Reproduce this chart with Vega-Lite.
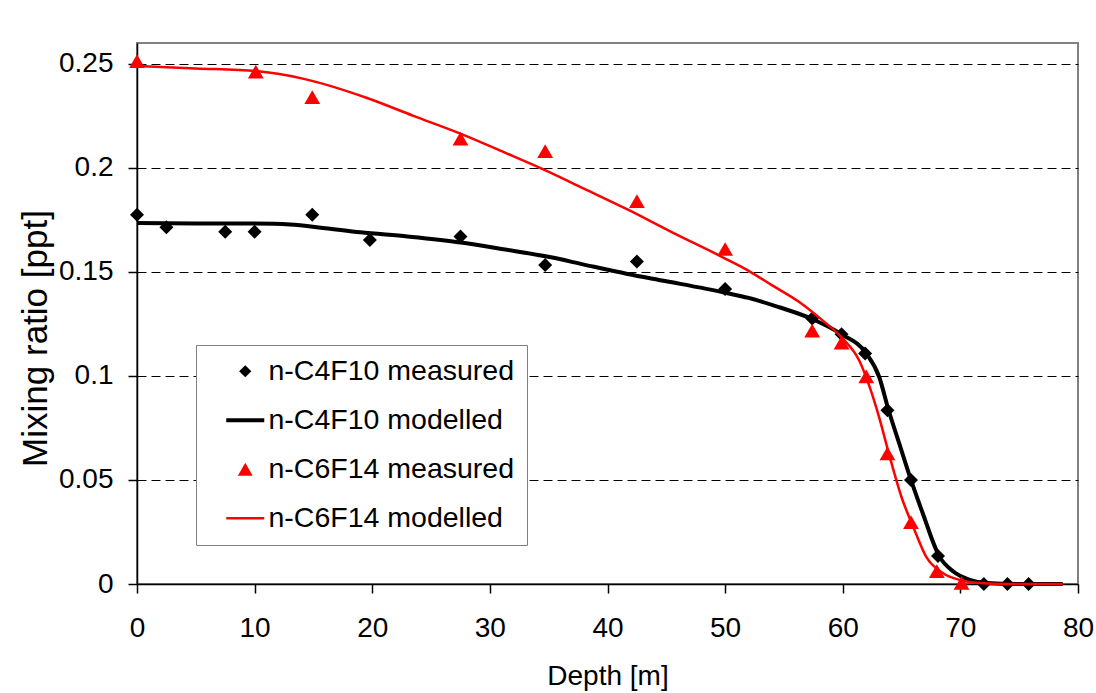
{
  "$schema": "https://vega.github.io/schema/vega-lite/v6.json",
  "width": 941,
  "height": 541,
  "autosize": {"type": "none"},
  "padding": {"left": 137, "top": 43, "right": 18, "bottom": 109},
  "background": "white",
  "config": {
    "font": "Liberation Sans",
    "view": {"stroke": "#808080", "strokeWidth": 2},
    "axis": {
      "domainColor": "black", "domainWidth": 1.5,
      "tickColor": "black", "tickWidth": 1.5, "tickSize": 9,
      "labelFontSize": 28, "labelColor": "black", "labelFont": "Liberation Sans",
      "titleFontSize": 28, "titleFontWeight": "normal", "titleColor": "black", "titleFont": "Liberation Sans"
    },
    "legend": {
      "orient": "none", "legendX": 59, "legendY": 302, "direction": "vertical",
      "strokeColor": "#808080", "fillColor": "white", "padding": 12,
      "rowPadding": 20, "symbolOffset": 23, "labelOffset": 9,
      "labelFontSize": 28.5, "labelFont": "Liberation Sans", "labelColor": "black", "labelLimit": 0,
      "title": null
    }
  },
  "datasets": {
    "pts": [
      {"series": "n-C4F10 measured", "depth": 0, "value": 0.1775},
      {"series": "n-C4F10 measured", "depth": 2.5, "value": 0.1714},
      {"series": "n-C4F10 measured", "depth": 7.5, "value": 0.1693},
      {"series": "n-C4F10 measured", "depth": 10, "value": 0.1693},
      {"series": "n-C4F10 measured", "depth": 14.9, "value": 0.1775},
      {"series": "n-C4F10 measured", "depth": 19.8, "value": 0.1653},
      {"series": "n-C4F10 measured", "depth": 27.5, "value": 0.167},
      {"series": "n-C4F10 measured", "depth": 34.7, "value": 0.1533},
      {"series": "n-C4F10 measured", "depth": 42.5, "value": 0.155},
      {"series": "n-C4F10 measured", "depth": 50, "value": 0.1418},
      {"series": "n-C4F10 measured", "depth": 57.4, "value": 0.1276},
      {"series": "n-C4F10 measured", "depth": 59.9, "value": 0.12},
      {"series": "n-C4F10 measured", "depth": 61.9, "value": 0.1108},
      {"series": "n-C4F10 measured", "depth": 63.8, "value": 0.0835},
      {"series": "n-C4F10 measured", "depth": 65.8, "value": 0.05},
      {"series": "n-C4F10 measured", "depth": 68.1, "value": 0.0134},
      {"series": "n-C4F10 measured", "depth": 72, "value": 0},
      {"series": "n-C4F10 measured", "depth": 74, "value": 0},
      {"series": "n-C4F10 measured", "depth": 75.8, "value": 0},
      {"series": "n-C6F14 measured", "depth": 0, "value": 0.2513},
      {"series": "n-C6F14 measured", "depth": 10.1, "value": 0.2462},
      {"series": "n-C6F14 measured", "depth": 14.9, "value": 0.234},
      {"series": "n-C6F14 measured", "depth": 27.5, "value": 0.214},
      {"series": "n-C6F14 measured", "depth": 34.7, "value": 0.208},
      {"series": "n-C6F14 measured", "depth": 42.5, "value": 0.184},
      {"series": "n-C6F14 measured", "depth": 50, "value": 0.161},
      {"series": "n-C6F14 measured", "depth": 57.4, "value": 0.1218},
      {"series": "n-C6F14 measured", "depth": 59.9, "value": 0.116},
      {"series": "n-C6F14 measured", "depth": 62, "value": 0.0998},
      {"series": "n-C6F14 measured", "depth": 63.8, "value": 0.0628},
      {"series": "n-C6F14 measured", "depth": 65.8, "value": 0.0297},
      {"series": "n-C6F14 measured", "depth": 68, "value": 0.0062},
      {"series": "n-C6F14 measured", "depth": 70.1, "value": 0.0005}
    ],
    "model": [
      {"series": "n-C4F10 modelled", "depth": 0, "value": 0.1735},
      {"series": "n-C4F10 modelled", "depth": 5, "value": 0.1733},
      {"series": "n-C4F10 modelled", "depth": 10, "value": 0.1732},
      {"series": "n-C4F10 modelled", "depth": 13, "value": 0.1728},
      {"series": "n-C4F10 modelled", "depth": 16, "value": 0.171},
      {"series": "n-C4F10 modelled", "depth": 19, "value": 0.169},
      {"series": "n-C4F10 modelled", "depth": 23, "value": 0.167},
      {"series": "n-C4F10 modelled", "depth": 27.7, "value": 0.164},
      {"series": "n-C4F10 modelled", "depth": 31, "value": 0.161},
      {"series": "n-C4F10 modelled", "depth": 35.2, "value": 0.157},
      {"series": "n-C4F10 modelled", "depth": 38, "value": 0.1535},
      {"series": "n-C4F10 modelled", "depth": 41.7, "value": 0.149},
      {"series": "n-C4F10 modelled", "depth": 45, "value": 0.1455},
      {"series": "n-C4F10 modelled", "depth": 50, "value": 0.14},
      {"series": "n-C4F10 modelled", "depth": 52, "value": 0.1375},
      {"series": "n-C4F10 modelled", "depth": 54.6, "value": 0.133},
      {"series": "n-C4F10 modelled", "depth": 57.3, "value": 0.1276},
      {"series": "n-C4F10 modelled", "depth": 59.9, "value": 0.12},
      {"series": "n-C4F10 modelled", "depth": 62, "value": 0.1108},
      {"series": "n-C4F10 modelled", "depth": 63.1, "value": 0.0995},
      {"series": "n-C4F10 modelled", "depth": 63.9, "value": 0.0835},
      {"series": "n-C4F10 modelled", "depth": 64.8, "value": 0.0676},
      {"series": "n-C4F10 modelled", "depth": 65.8, "value": 0.05},
      {"series": "n-C4F10 modelled", "depth": 66.8, "value": 0.034},
      {"series": "n-C4F10 modelled", "depth": 68.2, "value": 0.0134},
      {"series": "n-C4F10 modelled", "depth": 69.4, "value": 0.006},
      {"series": "n-C4F10 modelled", "depth": 70.8, "value": 0.002},
      {"series": "n-C4F10 modelled", "depth": 72.2, "value": 0.0005},
      {"series": "n-C4F10 modelled", "depth": 75, "value": 0},
      {"series": "n-C4F10 modelled", "depth": 78.7, "value": 0},
      {"series": "n-C6F14 modelled", "depth": 0, "value": 0.249},
      {"series": "n-C6F14 modelled", "depth": 5, "value": 0.2478},
      {"series": "n-C6F14 modelled", "depth": 10.1, "value": 0.2465},
      {"series": "n-C6F14 modelled", "depth": 14, "value": 0.243},
      {"series": "n-C6F14 modelled", "depth": 19.5, "value": 0.2337},
      {"series": "n-C6F14 modelled", "depth": 23.5, "value": 0.225},
      {"series": "n-C6F14 modelled", "depth": 27.7, "value": 0.216},
      {"series": "n-C6F14 modelled", "depth": 31, "value": 0.208},
      {"series": "n-C6F14 modelled", "depth": 34.5, "value": 0.1994},
      {"series": "n-C6F14 modelled", "depth": 38, "value": 0.19},
      {"series": "n-C6F14 modelled", "depth": 41.7, "value": 0.18},
      {"series": "n-C6F14 modelled", "depth": 45.5, "value": 0.169},
      {"series": "n-C6F14 modelled", "depth": 49.8, "value": 0.157},
      {"series": "n-C6F14 modelled", "depth": 52, "value": 0.1505},
      {"series": "n-C6F14 modelled", "depth": 54, "value": 0.1435},
      {"series": "n-C6F14 modelled", "depth": 56.3, "value": 0.1355},
      {"series": "n-C6F14 modelled", "depth": 58, "value": 0.128},
      {"series": "n-C6F14 modelled", "depth": 59.9, "value": 0.1185},
      {"series": "n-C6F14 modelled", "depth": 61.4, "value": 0.1074},
      {"series": "n-C6F14 modelled", "depth": 62.3, "value": 0.0945},
      {"series": "n-C6F14 modelled", "depth": 63.1, "value": 0.08},
      {"series": "n-C6F14 modelled", "depth": 64, "value": 0.061},
      {"series": "n-C6F14 modelled", "depth": 65, "value": 0.0417},
      {"series": "n-C6F14 modelled", "depth": 66, "value": 0.0273},
      {"series": "n-C6F14 modelled", "depth": 67.1, "value": 0.013},
      {"series": "n-C6F14 modelled", "depth": 68.5, "value": 0.0053},
      {"series": "n-C6F14 modelled", "depth": 69.9, "value": 0.002},
      {"series": "n-C6F14 modelled", "depth": 71.6, "value": 0.0005},
      {"series": "n-C6F14 modelled", "depth": 74, "value": 0},
      {"series": "n-C6F14 modelled", "depth": 78.7, "value": 0}
    ]
  },
  "encoding": {
    "x": {
      "field": "depth", "type": "quantitative",
      "scale": {"domain": [0, 80], "nice": false, "zero": false},
      "axis": {"values": [0, 10, 20, 30, 40, 50, 60, 70, 80], "grid": false, "labelPadding": 21, "title": "Depth [m]", "titlePadding": 20, "labelFlush": false}
    },
    "y": {
      "field": "value", "type": "quantitative",
      "scale": {"domain": [0, 0.26], "nice": false},
      "axis": {"values": [0, 0.05, 0.1, 0.15, 0.2, 0.25], "format": "~g", "grid": true, "gridColor": "black", "gridDash": [9, 5], "gridWidth": 1, "labelPadding": 15, "title": "Mixing ratio [ppt]", "titleFontSize": 35, "titlePadding": 5, "titleY": 295}
    },
    "color": {
      "field": "series", "type": "nominal",
      "scale": {"domain": ["n-C4F10 measured", "n-C4F10 modelled", "n-C6F14 measured", "n-C6F14 modelled"], "range": ["black", "black", "red", "red"]},
      "legend": {
        "encode": {
          "symbols": {
            "update": {
              "fill": {"scale": "color", "field": "value"},
              "stroke": {"scale": "color", "field": "value"},
              "opacity": {"value": 1},
              "fillOpacity": {"value": 1},
              "strokeOpacity": {"value": 1},
              "strokeWidth": {"signal": "datum.value == 'n-C4F10 modelled' ? 4 : datum.value == 'n-C6F14 modelled' ? 2.5 : 0"},
              "size": {"signal": "(datum.value == 'n-C4F10 modelled' || datum.value == 'n-C6F14 modelled') ? 1444 : datum.value == 'n-C4F10 measured' ? 150 : 220"}
            }
          }
        }
      }
    }
  },
  "layer": [
    {
      "data": {"name": "pts"},
      "transform": [{"filter": "datum.series == 'n-C4F10 measured'"}],
      "mark": {"type": "point", "filled": true, "opacity": 1, "size": 196},
      "encoding": {
        "shape": {
          "field": "series", "type": "nominal",
          "scale": {"domain": ["n-C4F10 measured", "n-C4F10 modelled", "n-C6F14 measured", "n-C6F14 modelled"], "range": ["diamond", "stroke", "triangle-up", "stroke"]}
        }
      }
    },
    {
      "data": {"name": "model"},
      "transform": [{"filter": "datum.series == 'n-C4F10 modelled'"}],
      "mark": {"type": "line", "strokeWidth": 4, "interpolate": "monotone"},
      "encoding": {}
    },
    {
      "data": {"name": "pts"},
      "transform": [{"filter": "datum.series == 'n-C6F14 measured'"}],
      "mark": {"type": "point", "filled": true, "opacity": 1, "size": 250},
      "encoding": {
        "shape": {
          "field": "series", "type": "nominal",
          "scale": {"domain": ["n-C4F10 measured", "n-C4F10 modelled", "n-C6F14 measured", "n-C6F14 modelled"], "range": ["diamond", "stroke", "triangle-up", "stroke"]}
        }
      }
    },
    {
      "data": {"name": "model"},
      "transform": [{"filter": "datum.series == 'n-C6F14 modelled'"}],
      "mark": {"type": "line", "strokeWidth": 2.5, "interpolate": "monotone"},
      "encoding": {}
    }
  ]
}
